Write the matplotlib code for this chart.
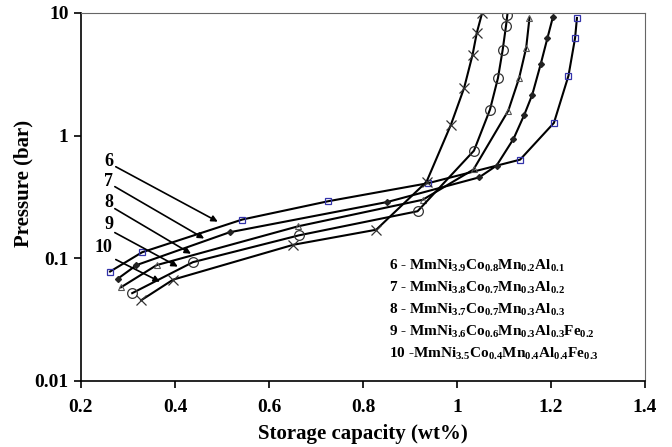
import numpy as np
import matplotlib
matplotlib.use("Agg")
import matplotlib.pyplot as plt

plt.rcParams['font.family'] = ['Liberation Serif', 'DejaVu Serif']
plt.rcParams['font.weight'] = 'bold'
plt.rcParams['mathtext.fontset'] = 'custom'
plt.rcParams['mathtext.rm'] = 'Liberation Serif:bold'
plt.rcParams['mathtext.it'] = 'Liberation Serif:bold'
plt.rcParams['mathtext.bf'] = 'Liberation Serif:bold'

# curve 6 - squares
x6 = [0.262, 0.330, 0.543, 0.726, 0.939, 1.134, 1.206, 1.237, 1.251, 1.255]
p6 = [0.078, 0.112, 0.207, 0.292, 0.41, 0.637, 1.27, 3.08, 6.25, 9.1]
# curve 7 - small diamonds
x7 = [0.278, 0.318, 0.516, 0.852, 1.047, 1.084, 1.120, 1.143, 1.160, 1.178, 1.192, 1.204]
p7 = [0.068, 0.088, 0.163, 0.288, 0.457, 0.57, 0.94, 1.48, 2.16, 3.84, 6.2, 9.3]
# curve 8 - triangles
x8 = [0.285, 0.361, 0.661, 0.927, 1.035, 1.109, 1.132, 1.147, 1.154]
p8 = [0.058, 0.088, 0.182, 0.30, 0.53, 1.6, 2.95, 5.2, 9.1]
# curve 9 - circles
x9 = [0.309, 0.438, 0.664, 0.916, 1.036, 1.070, 1.087, 1.097, 1.104, 1.107]
p9 = [0.052, 0.093, 0.154, 0.242, 0.755, 1.63, 2.95, 5.0, 7.8, 9.7]
# curve 10 - crosses
x10 = [0.328, 0.396, 0.652, 0.828, 0.935, 0.987, 1.015, 1.033, 1.042, 1.053]
p10 = [0.0455, 0.067, 0.129, 0.171, 0.42, 1.23, 2.45, 4.57, 6.9, 9.9]

labels = ['6', '7', '8', '9', '10']
label_pos = [(0.269, 0.614), (0.269, 0.42), (0.269, 0.284), (0.269, 0.188), (0.266, 0.122)]
arrow_tail = [(0.274, 0.558), (0.272, 0.384), (0.272, 0.254), (0.272, 0.162), (0.274, 0.0977)]
arrow_head = [(0.491, 0.199), (0.462, 0.145), (0.434, 0.109), (0.406, 0.0856), (0.368, 0.0645)]

legend_lines = [
    r'6 - MmNi$_{3.9}$Co$_{0.8}$Mn$_{0.2}$Al$_{0.1}$',
    r'7 - MmNi$_{3.8}$Co$_{0.7}$Mn$_{0.3}$Al$_{0.2}$',
    r'8 - MmNi$_{3.7}$Co$_{0.7}$Mn$_{0.3}$Al$_{0.3}$',
    r'9 - MmNi$_{3.6}$Co$_{0.6}$Mn$_{0.3}$Al$_{0.3}$Fe$_{0.2}$',
    r'10 -MmNi$_{3.5}$Co$_{0.4}$Mn$_{0.4}$Al$_{0.4}$Fe$_{0.3}$',
]

fig = plt.figure(figsize=(6.72, 4.47), dpi=100)
ax = fig.add_axes([0.1205, 0.1477, 0.8395, 0.8233])

ax.plot(x6, p6, color='black', lw=1.5, marker='s', ms=4, mfc='none', mec='#3333aa', mew=0.9)
ax.plot(x7, p7, color='black', lw=1.5, marker='D', ms=3, mfc='#222222', mec='#222222')
ax.plot(x8, p8, color='black', lw=1.5, marker='^', ms=4, mfc='none', mec='#555555', mew=0.8)
ax.plot(x9, p9, color='black', lw=1.5, marker='o', ms=7, mfc='none', mec='#333333', mew=0.9)
ax.plot(x10, p10, color='black', lw=1.5, marker='x', ms=7, mec='#333333', mew=0.9)

# numbered arrows pointing at the curves
for lab, pos, tail, head in zip(labels, label_pos, arrow_tail, arrow_head):
    ax.text(pos[0], pos[1], lab, fontsize=13, fontweight='bold', ha='right', va='center')
    ax.annotate('', xy=head, xytext=tail,
                arrowprops=dict(arrowstyle='-|>', color='black', lw=1.2,
                                mutation_scale=9, shrinkA=0, shrinkB=0))

# composition key
for i, t in enumerate(legend_lines):
    ax.text(0.546, 0.3125 - 0.06 * i, t, transform=ax.transAxes, fontsize=11,
            fontweight='bold', ha='left', va='center')

ax.set_yscale('log')
ax.set_xlim(0.2, 1.4)
ax.set_ylim(0.01, 10)
ax.set_xticks([0.2, 0.4, 0.6, 0.8, 1.0, 1.2, 1.4])
ax.set_xticklabels(['0.2', '0.4', '0.6', '0.8', '1', '1.2', '1.4'])
ax.set_yticks([0.01, 0.1, 1, 10])
ax.set_yticklabels(['0.01', '0.1', '1', '10'])
ax.yaxis.set_minor_locator(matplotlib.ticker.NullLocator())
ax.tick_params(axis='both', labelsize=14, direction='out', length=5, width=1.2)
ax.tick_params(axis='x', pad=8)
ax.tick_params(axis='y', pad=4)
for lab in ax.get_xticklabels() + ax.get_yticklabels():
    lab.set_fontweight('bold')

for s in ['top', 'right']:
    ax.spines[s].set_color('#666666')
for s in ['left', 'bottom']:
    ax.spines[s].set_linewidth(1.2)

ax.set_xlabel('Storage capacity (wt%)', fontsize=15, fontweight='bold', labelpad=6)
ax.set_ylabel('Pressure (bar)', fontsize=15, fontweight='bold')
ax.yaxis.set_label_coords(-0.085, 0.538)

fig.savefig('out.png', dpi=100)
